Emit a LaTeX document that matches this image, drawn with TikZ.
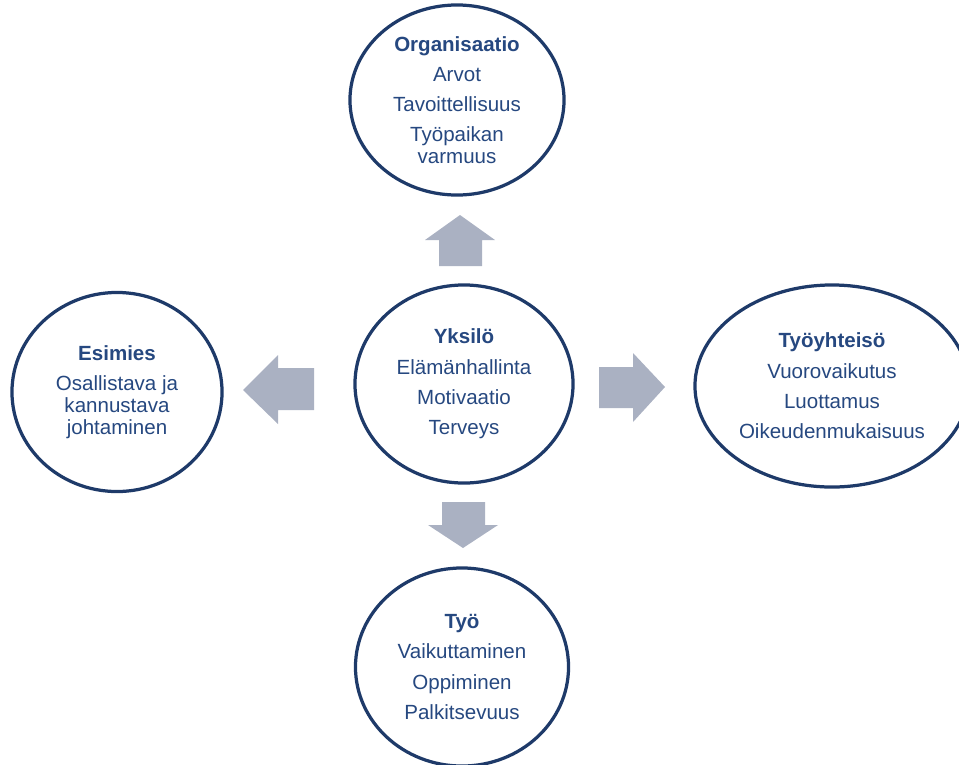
\documentclass[tikz,border=0pt]{standalone}
\usepackage{fontspec}
\setmainfont{Liberation Sans}
\usepackage{xcolor}
\usepackage{tikz}
\usetikzlibrary{shapes.geometric}

\definecolor{ringblue}{RGB}{30,58,105}
\definecolor{textblue}{RGB}{38,72,128}
\definecolor{arrowgray}{RGB}{170,177,194}

\begin{document}
\begin{tikzpicture}[x=0.025cm, y=-0.025cm,
    area/.style={ellipse, draw=ringblue, line width=2.3pt, fill=white, inner sep=0pt,
      text=textblue, align=center, font=\fontsize{14.6}{15.5}\selectfont},
    blockarrow/.style={fill=arrowgray, draw=none}]

\useasboundingbox (0,0) rectangle (959,764);

% Centre: the individual
\node[area, minimum width=5.45cm, minimum height=4.95cm] (yksilo) at (464,384)
  {\textbf{Yksilö}\\[6pt] Elämänhallinta\\[6pt] Motivaatio\\[6pt] Terveys};

% Surrounding areas
\node[area, minimum width=5.35cm, minimum height=4.75cm] (organisaatio) at (457,100)
  {\textbf{Organisaatio}\\[6pt] Arvot\\[6pt] Tavoittellisuus\\[6pt] Työpaikan\\ varmuus};
\node[area, minimum width=5.25cm, minimum height=4.975cm] (esimies) at (117,392)
  {\textbf{Esimies}\\[6pt] Osallistava ja\\ kannustava\\ johtaminen};
\node[area, minimum width=6.85cm, minimum height=5.05cm] (tyoyhteiso) at (832,386)
  {\textbf{Työyhteisö}\\[6pt] Vuorovaikutus\\[6pt] Luottamus\\[6pt] Oikeudenmukaisuus};
\node[area, minimum width=5.325cm, minimum height=4.95cm] (tyo) at (462,667)
  {\textbf{Työ}\\[6pt] Vaikuttaminen\\[6pt] Oppiminen\\[6pt] Palkitsevuus};

% Block arrows out of the centre
\fill[blockarrow] (439,266) -- (439,240) -- (425,240) -- (460,215) -- (495,240) -- (482,240) -- (482,266) -- cycle;
\fill[blockarrow] (314,368) -- (278,368) -- (278,355) -- (243,390) -- (278,424) -- (278,410) -- (314,410) -- cycle;
\fill[blockarrow] (599,367) -- (633,367) -- (633,353) -- (665,387) -- (633,422) -- (633,408) -- (599,408) -- cycle;
\fill[blockarrow] (442,502) -- (485,502) -- (485,525) -- (498,525) -- (463,548) -- (428,525) -- (442,525) -- cycle;

\end{tikzpicture}
\end{document}
